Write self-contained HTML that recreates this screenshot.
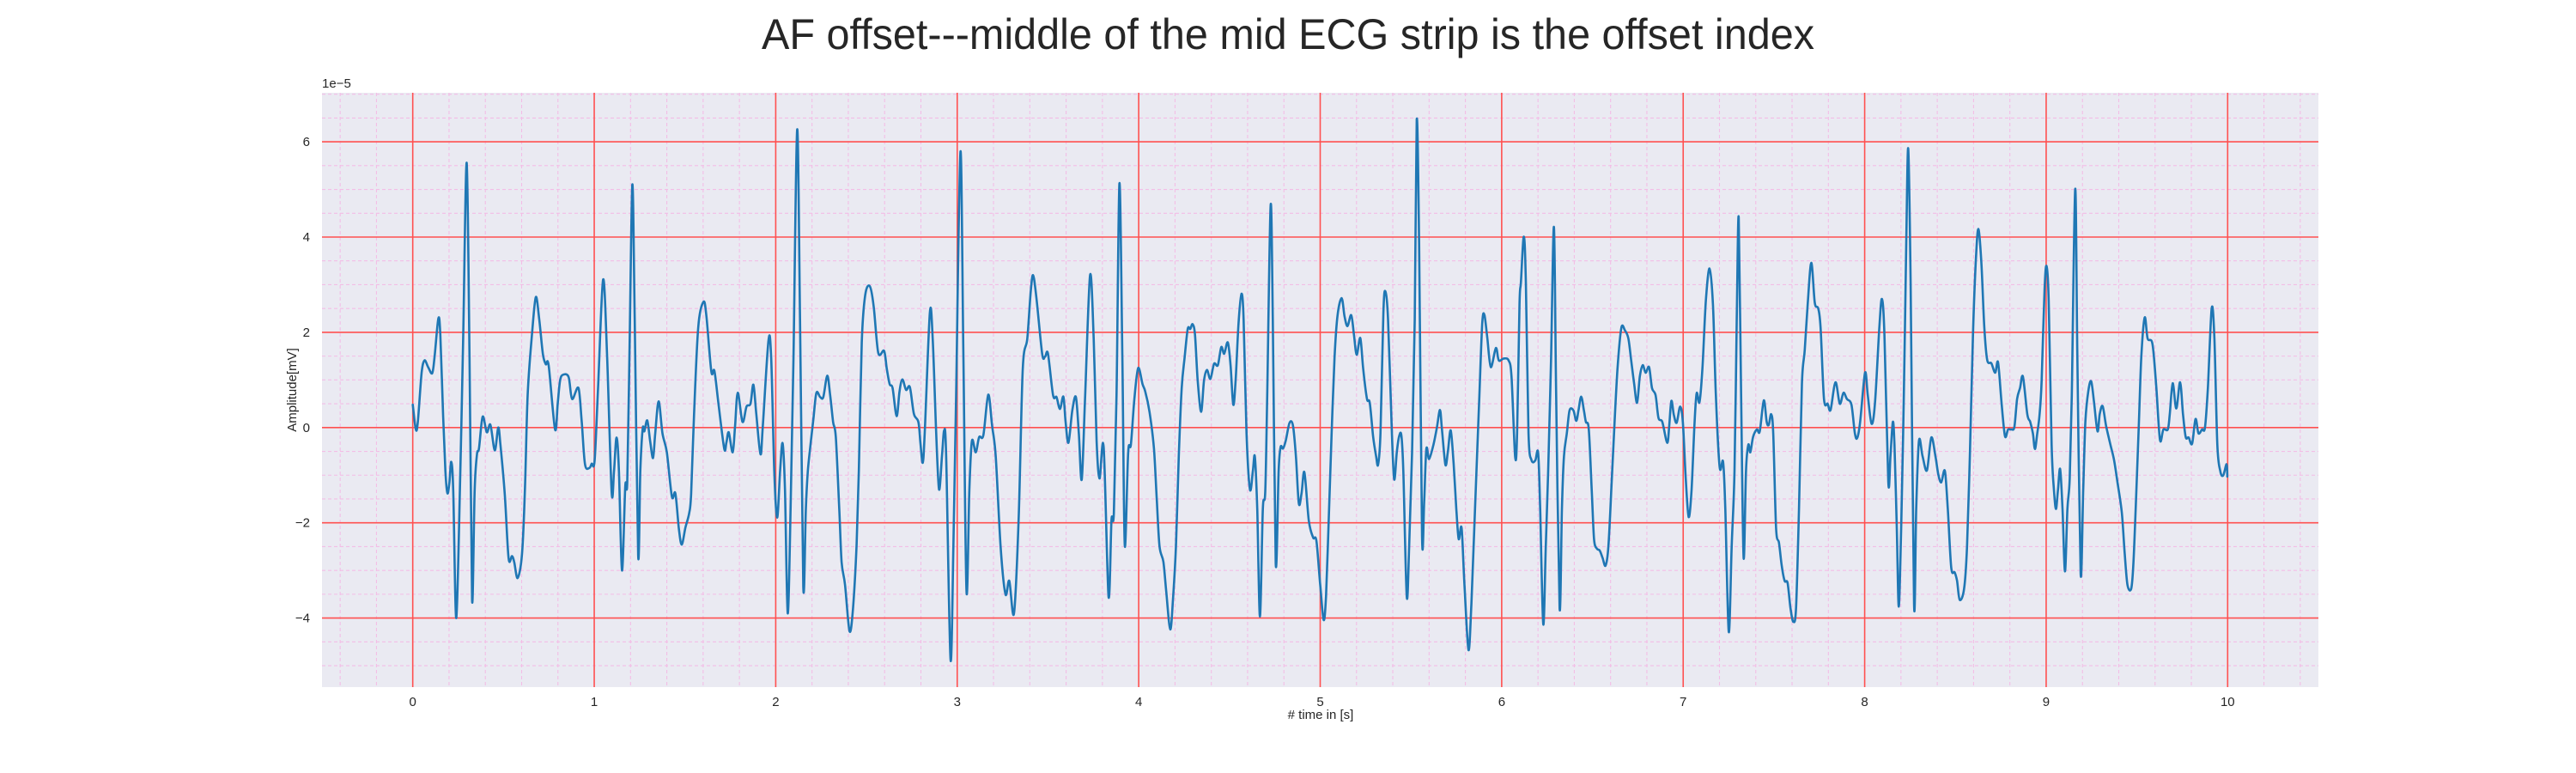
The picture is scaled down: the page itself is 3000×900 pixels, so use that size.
<!DOCTYPE html>
<html><head><meta charset="utf-8"><style>
html,body{margin:0;padding:0;background:#fff;}
svg{display:block;font-family:"Liberation Sans",sans-serif;}
</style></head><body>
<svg id="chart" width="3000" height="900" viewBox="0 0 3000 900" xmlns="http://www.w3.org/2000/svg">
<rect x="0" y="0" width="3000" height="900" fill="#ffffff"/>
<text x="1500" y="57" text-anchor="middle" font-size="50" fill="#262626" textLength="1226" lengthAdjust="spacingAndGlyphs">AF offset---middle of the mid ECG strip is the offset index</text>
<rect x="375" y="108" width="2325" height="692" fill="#eaeaf2"/>
<g id="grid"></g>
<g id="series"></g>
<g id="ticks"></g>
<text x="375" y="102" font-size="15" fill="#262626">1e−5</text>
<text x="0" y="0" font-size="15" fill="#262626" text-anchor="middle" transform="translate(345,454) rotate(-90)">Amplitude[mV]</text>
<text x="1538" y="837" font-size="15" fill="#262626" text-anchor="middle"># time in [s]</text>
</svg>
<script>
const xTicks = [0,1,2,3,4,5,6,7,8,9,10];
const yTicks = [-4,-2,0,2,4,6];
const yTickLabels = ["−4","−2","0","2","4","6"];
const times = [
0.000,0.017,0.028,0.049,0.065,0.085,0.107,0.120,0.141,0.152,0.167,0.180,0.191,0.202,0.212,0.223,0.240,0.262,0.278,0.297,0.313,0.327,0.341,0.354,0.365,0.385,0.408,0.428,0.452,0.471,0.483,0.507,0.528,0.547,0.559,0.578,0.602,0.618,0.633,0.657,0.678,0.697,0.717,0.733,0.749,0.784,0.799,0.812,0.828,0.859,0.878,0.913,0.931,0.949,0.973,0.986,1.002,1.021,1.049,1.071,1.096,1.109,1.123,1.136,1.153,1.171,1.182,1.194,1.210,1.223,1.242,1.254,1.267,1.276,1.292,1.308,1.324,1.336,1.355,1.376,1.400,1.428,1.447,1.466,1.482,1.502,1.523,1.534,1.550,1.573,1.602,1.618,1.645,1.662,1.684,1.716,1.728,1.741,1.763,1.776,1.791,1.817,1.839,1.861,1.877,1.893,1.916,1.929,1.960,1.975,1.992,2.008,
2.024,2.038,2.051,2.066,2.082,2.098,2.118,2.134,2.152,2.166,2.177,2.194,2.208,2.224,2.245,2.262,2.284,2.300,2.316,2.331,2.350,2.363,2.382,2.407,2.426,2.445,2.458,2.474,2.493,2.518,2.540,2.565,2.597,2.612,2.628,2.644,2.666,2.682,2.698,2.718,2.739,2.761,2.786,2.797,2.810,2.821,2.849,2.865,2.884,2.900,2.916,2.928,2.939,2.963,2.979,2.994,3.018,3.034,3.051,3.067,3.081,3.102,3.121,3.144,3.171,3.192,3.212,3.239,3.266,3.287,3.313,3.339,3.361,3.386,3.405,3.418,3.436,3.468,3.484,3.500,3.528,3.547,3.566,3.585,3.597,3.613,3.634,3.654,3.670,3.686,3.705,3.732,3.752,3.768,3.784,3.807,3.834,3.850,3.863,3.878,3.894,3.910,3.923,3.942,3.957,3.976,3.997,4.021,4.036,
4.060,4.084,4.100,4.115,4.136,4.152,4.174,4.190,4.205,4.221,4.237,4.253,4.270,4.284,4.297,4.310,4.325,4.344,4.360,4.376,4.395,4.415,4.436,4.455,4.471,4.491,4.506,4.521,4.534,4.550,4.566,4.578,4.594,4.613,4.629,4.640,4.653,4.668,4.684,4.697,4.708,4.727,4.739,4.755,4.771,4.782,4.795,4.810,4.831,4.850,4.866,4.882,4.897,4.913,4.937,4.961,4.979,5.000,5.019,5.032,5.047,5.063,5.079,5.095,5.118,5.134,5.150,5.171,5.186,5.201,5.221,5.237,5.258,5.273,5.292,5.308,5.319,5.332,5.348,5.359,5.374,5.395,5.408,5.422,5.434,5.447,5.458,5.477,5.490,5.506,5.521,5.532,5.545,5.561,5.573,5.585,5.600,5.624,5.643,5.660,5.671,5.690,5.703,5.719,5.735,5.750,5.763,5.779,5.795,5.817,5.833,5.853,5.877,5.893,5.905,5.921,5.940,5.968,5.984,6.011,6.038,6.054,6.074,6.085,6.098,
6.106,6.122,6.133,6.148,6.164,6.185,6.201,6.212,6.229,6.243,6.256,6.272,6.288,6.300,6.319,6.332,6.343,6.359,6.374,6.395,6.411,6.423,6.438,6.453,6.464,6.480,6.496,6.509,6.524,6.540,6.556,6.572,6.588,6.604,6.619,6.638,6.659,6.679,6.698,6.714,6.730,6.746,6.761,6.777,6.793,6.812,6.828,6.848,6.864,6.885,6.912,6.923,6.935,6.948,6.964,6.983,6.998,7.014,7.030,7.046,7.062,7.074,7.090,7.106,7.125,7.145,7.164,7.180,7.201,7.220,7.232,7.251,7.267,7.283,7.295,7.306,7.319,7.333,7.346,7.359,7.370,7.385,7.406,7.422,7.444,7.460,7.472,7.485,7.496,7.512,7.528,7.543,7.559,7.575,7.591,7.607,7.622,7.638,7.654,7.670,7.686,7.706,7.725,7.744,7.757,7.776,7.796,7.812,7.839,7.863,7.883,7.902,7.927,7.946,7.959,7.975,8.002,8.017,8.038,8.057,8.081,8.095,8.109,
8.130,8.142,8.155,8.164,8.177,8.188,8.201,8.216,8.229,8.240,8.253,8.272,8.284,8.299,8.319,8.343,8.367,8.390,8.406,8.422,8.442,8.458,8.477,8.496,8.509,8.524,8.548,8.564,8.580,8.596,8.612,8.626,8.643,8.659,8.675,8.698,8.719,8.735,8.754,8.773,8.790,8.809,8.825,8.840,8.856,8.872,8.896,8.912,8.927,8.938,8.951,8.964,8.975,8.991,9.002,9.014,9.030,9.043,9.054,9.065,9.077,9.090,9.104,9.117,9.130,9.141,9.160,9.172,9.190,9.204,9.216,9.232,9.248,9.264,9.283,9.295,9.311,9.330,9.354,9.374,9.393,9.417,9.433,9.448,9.468,9.480,9.493,9.509,9.524,9.543,9.559,9.586,9.607,9.627,9.646,9.670,9.681,9.697,9.717,9.738,9.754,9.769,9.785,9.804,9.823,9.839,9.859,9.875,9.891,9.912,9.927,9.943,9.959,9.975,9.994,9.998
];
const amplitudes = [
0.48,-0.04,0.12,1.15,1.41,1.27,1.14,1.47,2.29,1.95,0.28,-0.91,-1.38,-1.15,-0.72,-1.31,-4.00,-0.91,1.87,5.56,1.47,-3.62,-1.31,-0.56,-0.44,0.23,-0.10,0.06,-0.48,0.00,-0.36,-1.39,-2.74,-2.70,-2.82,-3.16,-2.66,-1.31,0.68,1.95,2.74,2.27,1.55,1.33,1.30,-0.04,0.52,0.99,1.11,1.06,0.60,0.83,0.12,-0.77,-0.85,-0.76,-0.69,0.83,3.11,1.47,-1.35,-0.91,-0.21,-0.91,-3.00,-1.23,-1.15,1.47,5.10,2.27,-2.68,-0.91,-0.02,-0.08,0.15,-0.28,-0.64,-0.12,0.55,-0.12,-0.52,-1.45,-1.38,-2.11,-2.46,-2.11,-1.80,-1.39,0.28,2.11,2.64,2.34,1.18,1.19,0.52,-0.44,-0.32,-0.10,-0.52,0.04,0.73,0.12,0.44,0.50,0.90,0.28,-0.56,0.04,1.83,1.47,-0.91,-1.89,
-0.91,-0.33,-1.31,-3.90,-1.71,1.47,6.26,2.27,-3.34,-1.71,-0.91,-0.28,0.20,0.73,0.64,0.64,1.09,0.68,0.12,-0.20,-1.71,-2.82,-3.30,-4.28,-3.78,-2.50,-0.91,1.79,2.78,2.97,2.54,1.57,1.61,1.23,0.91,0.83,0.24,0.76,1.01,0.79,0.85,0.29,0.12,-0.32,-0.74,-0.12,2.41,1.87,-0.12,-1.30,-0.60,-0.06,-0.60,-4.87,-2.50,0.68,5.80,1.47,-3.44,-1.31,-0.28,-0.52,-0.20,-0.16,0.69,0.04,-0.60,-2.50,-3.50,-3.22,-3.90,-1.87,1.23,1.87,2.86,3.20,2.74,1.55,1.49,1.55,0.68,0.64,0.39,0.65,0.12,-0.32,0.36,0.64,-0.12,-1.09,0.68,3.20,1.87,-0.28,-1.07,-0.41,-3.55,-1.95,-1.80,0.68,5.13,1.47,-2.47,-0.52,-0.36,0.60,1.25,0.91,0.76,
0.32,-0.44,-1.55,-2.50,-2.82,-3.46,-4.24,-3.54,-2.50,-0.60,0.83,1.47,2.07,2.07,2.17,1.95,0.99,0.33,0.99,1.21,1.02,1.34,1.31,1.69,1.55,1.79,1.31,0.48,0.99,2.19,2.81,2.27,-0.12,-1.30,-0.91,-0.61,-1.71,-3.97,-1.71,-1.35,0.68,4.67,2.27,-2.85,-0.91,-0.41,-0.44,-0.28,0.10,0.04,-0.60,-1.59,-1.39,-0.94,-1.95,-2.31,-2.38,-3.30,-4.04,-3.54,-1.95,-0.12,1.47,2.34,2.72,2.34,2.13,2.36,1.95,1.53,1.88,1.23,0.60,0.52,-0.20,-0.60,-0.78,-0.12,2.42,2.86,2.27,-0.12,-1.09,-0.52,-0.20,-0.16,-0.91,-3.55,-2.50,-0.52,2.27,6.46,3.86,-2.27,-1.55,-0.45,-0.66,-0.36,0.00,0.37,-0.04,-0.78,-0.52,-0.06,-0.76,-1.71,-2.34,-2.11,-3.30,-4.67,-3.70,-1.71,0.68,2.19,2.36,1.87,1.27,1.67,1.41,1.45,1.41,1.07,-0.61,-0.12,2.58,
3.06,4.01,3.06,-0.12,-0.68,-0.69,-0.53,-1.71,-4.13,-2.50,-0.91,1.47,4.21,0.68,-3.79,-1.71,-0.60,-0.12,0.36,0.36,0.14,0.36,0.65,0.36,0.12,-0.04,-1.31,-2.34,-2.54,-2.58,-2.74,-2.90,-2.50,-1.31,-0.12,1.23,2.09,2.04,1.87,1.39,0.91,0.52,1.07,1.31,1.15,1.27,0.83,0.68,0.20,0.12,-0.32,0.04,0.56,0.28,0.10,0.44,0.12,-1.07,-1.88,-1.31,0.04,0.72,0.53,1.23,2.66,3.34,2.58,0.68,-0.83,-0.72,-1.71,-4.29,-2.50,-0.91,2.27,4.41,0.68,-2.73,-0.91,-0.36,-0.52,-0.20,-0.04,-0.08,0.57,0.12,0.06,0.28,-0.12,-2.11,-2.42,-2.90,-3.22,-3.26,-3.78,-4.08,-3.78,-1.71,0.91,1.63,2.58,3.46,2.62,2.50,2.11,0.60,0.50,0.37,0.95,0.50,0.73,0.60,0.48,-0.12,-0.22,0.12,1.15,0.68,0.08,0.52,2.11,2.70,1.95,
-1.14,-0.60,0.12,-0.36,-2.11,-3.76,-2.11,0.68,3.86,5.86,3.06,-3.70,-1.71,-0.28,-0.60,-0.90,-0.21,-0.60,-0.99,-1.15,-0.91,-1.71,-2.94,-3.04,-3.22,-3.62,-3.38,-2.50,-0.52,1.87,3.46,4.17,3.46,2.11,1.42,1.35,1.15,1.37,0.52,-0.18,-0.04,-0.04,0.02,0.60,0.83,1.07,0.28,0.12,-0.12,-0.45,-0.12,0.28,0.99,2.90,3.39,2.66,-0.36,-1.31,-1.71,-1.31,-0.87,-1.71,-3.02,-1.71,-1.07,0.68,5.01,1.47,-3.06,-1.31,0.12,0.76,0.97,0.52,-0.08,0.28,0.45,0.04,-0.36,-0.68,-1.15,-1.79,-2.66,-3.30,-3.39,-2.90,-1.71,-0.12,1.47,2.31,1.87,1.75,0.83,-0.26,-0.04,-0.04,0.28,0.93,0.40,0.95,0.28,-0.20,-0.21,-0.34,0.18,-0.12,-0.04,0.00,0.83,2.50,1.87,-0.36,-0.91,-1.01,-0.77,-1.03
];

const NS = "http://www.w3.org/2000/svg";
const PX0 = 375, PX1 = 2700, PY0 = 108, PY1 = 800;
const XMIN = -0.5, XMAX = 10.5, YMIN = -5.45, YMAX = 7.03;
function xScale(t){ return PX0 + (t - XMIN) / (XMAX - XMIN) * (PX1 - PX0); }
function yScale(v){ return PY1 - (v - YMIN) / (YMAX - YMIN) * (PY1 - PY0); }
function mk(tag, attrs){ const e = document.createElementNS(NS, tag); for (const k in attrs) e.setAttribute(k, attrs[k]); return e; }

const grid = document.getElementById('grid');
for (let i = -2; i <= 52; i++) {
  const t = i * 0.2;
  if (Math.abs(t - Math.round(t)) < 1e-6) continue;
  const x = xScale(t);
  const l = mk('line', {x1:x, x2:x, y1:PY0, y2:PY1, stroke:'#f3bde6', 'stroke-width':1.1, 'stroke-dasharray':'4,3'});
  
  
  grid.appendChild(l);
}
for (let i = -10; i <= 14; i++) {
  const v = i * 0.5;
  if (Math.abs(v / 2 - Math.round(v / 2)) < 1e-6) continue;
  const y = yScale(v);
  const l = mk('line', {x1:PX0, x2:PX1, y1:y, y2:y, stroke:'#f3bde6', 'stroke-width':1.1, 'stroke-dasharray':'4,3'});
  
  
  grid.appendChild(l);
}
const ticks = document.getElementById('ticks');
xTicks.forEach(t => {
  const x = xScale(t);
  const l = mk('line', {x1:x, x2:x, y1:PY0, y2:PY1, stroke:'#ff5050', 'stroke-width':1.6});
  
  
  grid.appendChild(l);
  const tx = mk('text', {x:x, y:822, 'font-size':15, fill:'#262626', 'text-anchor':'middle'});
  tx.textContent = String(t);
  
  
  ticks.appendChild(tx);
});
yTicks.forEach((v, i) => {
  const y = yScale(v);
  const l = mk('line', {x1:PX0, x2:PX1, y1:y, y2:y, stroke:'#ff5050', 'stroke-width':1.6});
  
  
  grid.appendChild(l);
  const tx = mk('text', {x:361, y:y + 5, 'font-size':15, fill:'#262626', 'text-anchor':'end'});
  tx.textContent = yTickLabels[i];
  
  
  ticks.appendChild(tx);
});
// series (Catmull-Rom smoothing)
const n = Math.min(times.length, amplitudes.length);
const P = [];
for (let i = 0; i < n; i++) P.push([xScale(times[i]), yScale(amplitudes[i])]);
let d = 'M' + P[0][0].toFixed(1) + ',' + P[0][1].toFixed(1);
for (let i = 0; i < n - 1; i++) {
  const p0 = P[Math.max(0, i - 1)], p1 = P[i], p2 = P[i + 1], p3 = P[Math.min(n - 1, i + 2)];
  const k = 0.16;
  const c1x = p1[0] + (p2[0] - p0[0]) * k, c1y = p1[1] + (p2[1] - p0[1]) * k;
  const c2x = p2[0] - (p3[0] - p1[0]) * k, c2y = p2[1] - (p3[1] - p1[1]) * k;
  d += 'C' + c1x.toFixed(1) + ',' + c1y.toFixed(1) + ' ' + c2x.toFixed(1) + ',' + c2y.toFixed(1) + ' ' + p2[0].toFixed(1) + ',' + p2[1].toFixed(1);
}
const path = mk('path', {d:d, fill:'none', stroke:'#1f77b4', 'stroke-width':2.6, 'stroke-linejoin':'round', 'stroke-linecap':'round'});


document.getElementById('series').appendChild(path);
</script>
</body></html>
